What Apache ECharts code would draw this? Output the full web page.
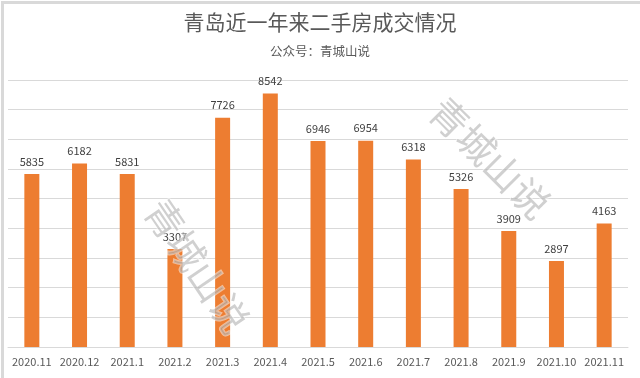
<!DOCTYPE html>
<html>
<head>
<meta charset="utf-8">
<script src="https://cdn.jsdelivr.net/npm/echarts@6/dist/echarts.min.js"></script>
<style>
  html, body { margin: 0; padding: 0; background: #fff; }
  #chart { width: 640px; height: 378px; }
</style>
</head>
<body>
<div id="chart"></div>
<script>
// 月份
const months = ['2020.11', '2020.12', '2021.1', '2021.2', '2021.3', '2021.4', '2021.5',
  '2021.6', '2021.7', '2021.8', '2021.9', '2021.10', '2021.11'];
// 成交套数
const deals = [5835, 6182, 5831, 3307, 7726, 8542, 6946, 6954, 6318, 5326, 3909, 2897, 4163];

const titleText = '青岛近一年来二手房成交情况';
const subText = '公众号：青城山说';
const watermark = '青城山说';

const chart = echarts.init(document.getElementById('chart'));
const font = '"Noto Sans CJK SC", "Liberation Sans", sans-serif';

// 水印样式
const wmStyle = {
  text: watermark,
  fontSize: 38,
  fontFamily: font,
  fill: 'rgba(170,170,170,0.55)',
  stroke: 'rgba(255,255,255,0.5)',
  lineWidth: 2,
  align: 'center',
  verticalAlign: 'middle'
};

chart.setOption({
  animation: false,
  backgroundColor: '#fff',
  title: {
    text: titleText,
    subtext: subText,
    left: 'center',
    top: 7,
    itemGap: 12,
    textStyle: { fontFamily: font, fontSize: 21, fontWeight: 'normal', color: '#595959' },
    subtextStyle: { fontFamily: font, fontSize: 12.5, color: '#595959' }
  },
  grid: { left: 8, right: 12, top: 80, bottom: 31 },
  xAxis: {
    type: 'category',
    data: months,
    axisLine: { lineStyle: { color: '#d9d9d9', width: 1 } },
    axisTick: { show: false },
    axisLabel: { color: '#595959', fontSize: 11, fontFamily: font, margin: 9, interval: 0 }
  },
  yAxis: {
    type: 'value',
    min: 0,
    max: 9000,
    interval: 1000,
    axisLabel: { show: false },
    axisLine: { show: false },
    axisTick: { show: false },
    splitLine: { lineStyle: { color: '#d9d9d9', width: 1 } }
  },
  series: [{
    type: 'bar',
    data: deals,
    barWidth: 15,
    itemStyle: { color: '#ed7d31' },
    label: {
      show: true,
      position: 'top',
      distance: 7,
      color: '#404040',
      fontSize: 11,
      fontFamily: font
    }
  }],
  graphic: [
    {
      type: 'rect',
      left: 0, top: 0,
      shape: { width: 639, height: 377 },
      style: { fill: 'none', stroke: '#d9d9d9', lineWidth: 3 },
      silent: true
    },
    {
      type: 'text',
      x: 197, y: 266,
      rotation: -Math.PI * 0.31,
      z: 100,
      style: wmStyle,
      silent: true
    },
    {
      type: 'text',
      x: 490, y: 158,
      rotation: -Math.PI * 0.25,
      z: 100,
      style: wmStyle,
      silent: true
    }
  ]
});
</script>
</body>
</html>
